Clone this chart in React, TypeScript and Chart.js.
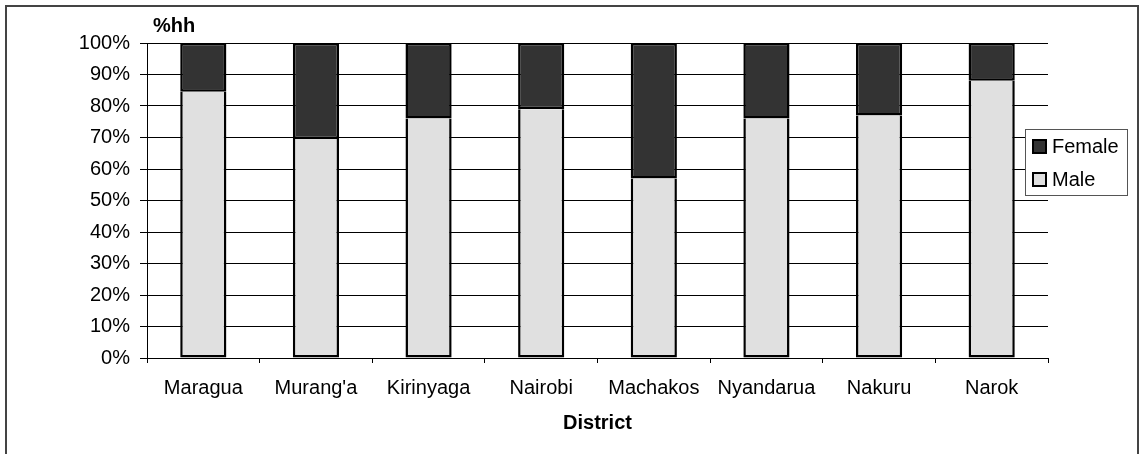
import { useEffect, useRef } from "react";
import { Chart, registerables } from "chart.js";

Chart.register(...registerables);

// Share of households (%) by sex of household head, per district
const districts = ["Maragua", "Murang'a", "Kirinyaga", "Nairobi", "Machakos", "Nyandarua", "Nakuru", "Narok"];
const maleShare = [84.5, 69.5, 76, 79, 57, 76, 77, 88];
const femaleShare = [15.5, 30.5, 24, 21, 43, 24, 23, 12];
const yTickValues = [0, 10, 20, 30, 40, 50, 60, 70, 80, 90, 100];

const FONT = "'Liberation Sans', Arial, Helvetica, sans-serif";
const MALE_FILL = "#e0e0e0";
const FEMALE_FILL = "#333333";

// Frame around the whole chart
const framePlugin = {
  id: "frame",
  beforeDraw(chart: any) {
    const ctx = chart.ctx;
    ctx.save();
    ctx.fillStyle = "#ffffff";
    ctx.fillRect(0, 0, chart.width, chart.height);
    ctx.strokeStyle = "#444444";
    ctx.lineWidth = 2;
    ctx.strokeRect(6, 6, chart.width - 8, chart.height + 40);
    ctx.restore();
  },
};

// Unit caption above the value axis, and the boxed legend on the right
const annotationsPlugin = {
  id: "annotations",
  afterDraw(chart: any) {
    const ctx = chart.ctx;
    ctx.save();
    ctx.fillStyle = "#000";
    ctx.font = `bold 20px ${FONT}`;
    ctx.textAlign = "left";
    ctx.textBaseline = "middle";
    ctx.fillText("%hh", 153, 26);

    // legend box
    const bx = 1025.5, by = 129.5, bw = 102, bh = 66;
    ctx.fillStyle = "#ffffff";
    ctx.fillRect(bx, by, bw, bh);
    ctx.strokeStyle = "#555555";
    ctx.lineWidth = 1;
    ctx.strokeRect(bx, by, bw, bh);

    const items = [...chart.data.datasets].reverse();
    items.forEach((ds: any, i: number) => {
      const sy = 140 + i * 33;
      ctx.fillStyle = ds.backgroundColor;
      ctx.fillRect(1033, sy, 13, 13);
      ctx.strokeStyle = "#000";
      ctx.lineWidth = 2;
      ctx.strokeRect(1033, sy, 13, 13);
      ctx.fillStyle = "#000";
      ctx.font = `20px ${FONT}`;
      ctx.textBaseline = "middle";
      ctx.fillText(ds.label, 1052, sy + 7);
    });
    ctx.restore();
  },
};

export default function App() {
  const canvasRef = useRef<HTMLCanvasElement | null>(null);

  useEffect(() => {
    if (!canvasRef.current) return;
    Chart.defaults.font.family = FONT;
    const chart = new Chart(canvasRef.current, {
      type: "bar",
      data: {
        labels: districts,
        datasets: [
          {
            label: "Male",
            data: maleShare,
            backgroundColor: MALE_FILL,
            borderColor: "#000",
            borderWidth: 2.5,
            borderSkipped: "top",
            barPercentage: 0.41,
            categoryPercentage: 1,
          },
          {
            label: "Female",
            data: femaleShare,
            backgroundColor: FEMALE_FILL,
            borderColor: "#000",
            borderWidth: 2.5,
            borderSkipped: false,
            barPercentage: 0.41,
            categoryPercentage: 1,
          },
        ],
      },
      options: {
        responsive: false,
        animation: false,
        layout: { padding: { top: 43, right: 92, bottom: 0, left: 0 } },
        plugins: {
          legend: { display: false },
          tooltip: { enabled: false },
        },
        scales: {
          x: {
            stacked: true,
            grid: {
              display: true,
              drawOnChartArea: false,
              drawTicks: true,
              tickLength: 5,
              offset: true,
              color: "#000",
            },
            border: { display: true, color: "#000", width: 1 },
            ticks: {
              padding: 13,
              autoSkip: false,
              maxRotation: 0,
              color: "#000",
              font: { size: 20 },
            },
            title: {
              display: true,
              text: "District",
              color: "#000",
              font: { size: 20, weight: "bold" },
              padding: { top: 0, bottom: 19 },
            },
            afterFit: (scale: any) => {
              scale.height = 96;
            },
          },
          y: {
            stacked: true,
            min: 0,
            max: 100,
            afterBuildTicks: (scale: any) => {
              scale.ticks = yTickValues.map((v) => ({ value: v }));
            },
            grid: {
              color: "#000",
              lineWidth: 1,
              drawTicks: true,
              tickLength: 7,
            },
            border: { display: true, color: "#000", width: 1 },
            ticks: {
              padding: 10,
              color: "#000",
              font: { size: 20 },
              callback: (v: any) => `${v}%`,
            },
            afterFit: (scale: any) => {
              scale.width = 147;
            },
          },
        },
      },
      plugins: [framePlugin, annotationsPlugin],
    });
    return () => chart.destroy();
  }, []);

  return (
    <div style={{ position: "absolute", left: 0, top: 0, width: 1140, height: 454 }}>
      <canvas ref={canvasRef} width={1140} height={454} />
    </div>
  );
}
